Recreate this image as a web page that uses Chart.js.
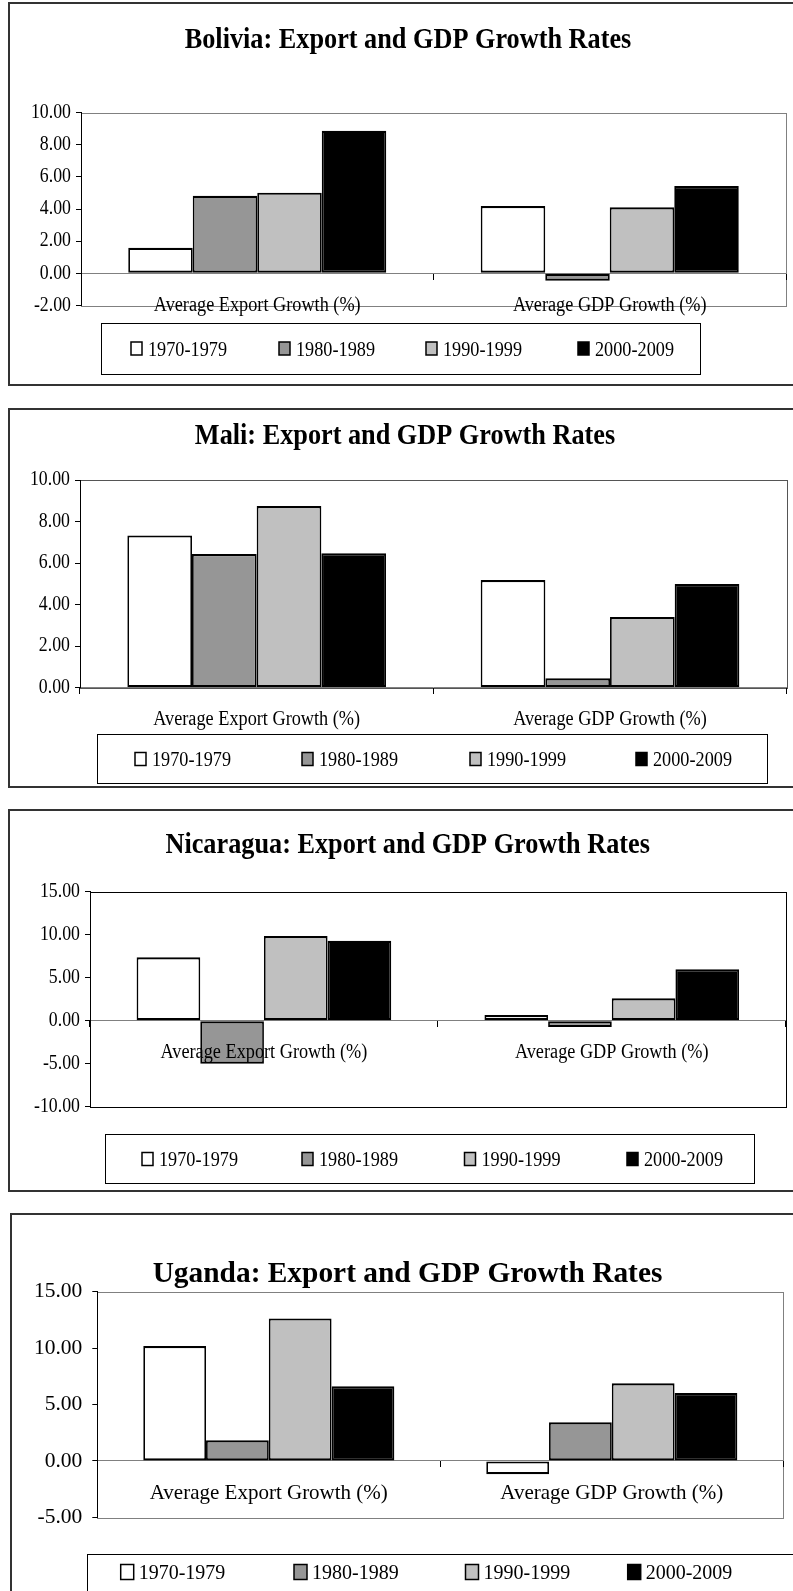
<!DOCTYPE html>
<html><head><meta charset="utf-8">
<script src="https://cdn.jsdelivr.net/npm/chart.js@4/dist/chart.umd.min.js"></script>
<style>
html,body{margin:0;padding:0;background:#fff;overflow:hidden;width:793px;height:1591px;position:relative;}
.box{position:absolute;box-sizing:border-box;border:2px solid #333;background:#fff;}
canvas{position:absolute;left:0;}
</style></head><body>
<div class="box" style="left:8px;top:2px;width:800px;height:384px"></div>
<div class="box" style="left:8px;top:408px;width:800px;height:380px"></div>
<div class="box" style="left:8px;top:809px;width:800px;height:383px"></div>
<div class="box" style="left:10px;top:1213px;width:800px;height:400px"></div>
<canvas id="c1" width="793" height="384" style="top:2px"></canvas>
<canvas id="c2" width="793" height="380" style="top:408px"></canvas>
<canvas id="c3" width="793" height="382" style="top:809px"></canvas>
<canvas id="c4" width="793" height="378" style="top:1213px"></canvas>
<script>
// ---- data ----
const categories = ['Average Export Growth (%)', 'Average GDP Growth (%)'];
const periods = ['1970-1979', '1980-1989', '1990-1999', '2000-2009'];
const periodColors = ['#FFFFFF', '#969696', '#C0C0C0', '#000000'];

const boliviaTitle = 'Bolivia: Export and GDP Growth Rates';
const boliviaExport = [1.59, 4.83, 5.02, 8.88];
const boliviaGDP = [4.19, -0.46, 4.11, 5.44];
const boliviaTicks = [-2, 0, 2, 4, 6, 8, 10];

const maliTitle = 'Mali: Export and GDP Growth Rates';
const maliExport = [7.34, 6.44, 8.76, 6.48];
const maliGDP = [5.19, 0.45, 3.41, 5.00];
const maliTicks = [0, 2, 4, 6, 8, 10];

const nicaraguaTitle = 'Nicaragua: Export and GDP Growth Rates';
const nicaraguaExport = [7.37, -5.00, 9.85, 9.30];
const nicaraguaGDP = [0.66, -0.73, 2.60, 5.97];
const nicaraguaTicks = [-10, -5, 0, 5, 10, 15];

const ugandaTitle = 'Uganda: Export and GDP Growth Rates';
const ugandaExport = [10.18, 1.83, 12.63, 6.61];
const ugandaGDP = [-1.18, 3.42, 6.88, 6.02];
const ugandaTicks = [-5, 0, 5, 10, 15];

// ---- layout / style ----
const FONT = 'Liberation Serif';
const layouts = [
  {id:'c1', title:boliviaTitle, exp:boliviaExport, gdp:boliviaGDP, ticks:boliviaTicks,
   pl:30, pr:7, yw:51, titleSize:29.5, titlePad:{top:20.5,bottom:54.8}, padB:80.6,
   sx:0.89, tickSize:20, labelSize:20.5, yPad:5, xPad:14, plotBorder:'#808080',
   legend:{box:[101,320.5,700,371], items:[131,279,426,578], y:348.5, size:20.5, sq:[11,13], gap:17}},
  {id:'c2', title:maliTitle, exp:maliExport, gdp:maliGDP, ticks:maliTicks,
   pl:23.3, pr:6.3, yw:56.7, titleSize:29.5, titlePad:{top:10.8,bottom:26}, padB:100.3,
   sx:0.89, tickSize:20, labelSize:20.5, yPad:5, xPad:14, plotBorder:'#555555',
   legend:{box:[97,326,767,375], items:[135,302,470,636], y:353, size:20.5, sq:[11,13], gap:17}},
  {id:'c3', title:nicaraguaTitle, exp:nicaraguaExport, gdp:nicaraguaGDP, ticks:nicaraguaTicks,
   pl:29.7, pr:7.3, yw:60.3, titleSize:29.5, titlePad:{top:18.8,bottom:28.5}, padB:84.3,
   sx:0.89, tickSize:20, labelSize:20.5, yPad:5, xPad:14, plotBorder:'#000000',
   legend:{box:[104.5,325,753.5,373.5], items:[142,302,464.5,627], y:352, size:20.5, sq:[11,13], gap:17}},
  {id:'c4', title:ugandaTitle, exp:ugandaExport, gdp:ugandaGDP, ticks:ugandaTicks,
   pl:31.7, pr:9.7, yw:65.6, titleSize:29.4, titlePad:{top:43.4,bottom:0}, padB:73.7,
   sx:1.0, tickSize:21.5, labelSize:21, yPad:10, xPad:14, plotBorder:'#808080',
   legend:{box:[87,340.6,820,400], items:[120.7,294,465.5,627.7], y:361, size:20, sq:[13,15], gap:18}}
];

function makeCondense(sx) {
  return {
    id: 'condense',
    beforeInit(chart) {
      const ctx = chart.ctx;
      const orig = ctx.fillText;
      ctx.fillText = function (text, x, y) {
        this.save();
        this.translate(x, y);
        this.scale(sx, 1);
        orig.call(this, text, 0, 0);
        this.restore();
      };
    }
  };
}

function makeDecor(L) {
  return {
    id: 'decor',
    beforeDraw(chart) {
      const {ctx, chartArea: a} = chart;
      ctx.save();
      ctx.strokeStyle = L.plotBorder;
      ctx.lineWidth = 1;
      ctx.strokeRect(Math.round(a.left) + 0.5, Math.round(a.top) + 0.5,
                     Math.round(a.right - a.left), Math.round(a.bottom - a.top));
      ctx.restore();
    },
    afterDraw(chart) {
      const ctx = chart.ctx;
      const lg = L.legend;
      ctx.save();
      ctx.strokeStyle = '#000';
      ctx.lineWidth = 1;
      ctx.strokeRect(Math.round(lg.box[0]) + 0.5, Math.round(lg.box[1]) + 0.5,
                     Math.round(lg.box[2] - lg.box[0]), Math.round(lg.box[3] - lg.box[1]));
      ctx.font = lg.size + 'px "' + FONT + '"';
      ctx.textBaseline = 'middle';
      ctx.textAlign = 'left';
      chart.data.datasets.forEach((ds, i) => {
        const x = lg.items[i];
        const y0 = lg.y - 2 - lg.sq[1] / 2;
        ctx.fillStyle = ds.backgroundColor;
        ctx.fillRect(x, y0, lg.sq[0], lg.sq[1]);
        ctx.lineWidth = 1.5;
        ctx.strokeStyle = '#000';
        ctx.strokeRect(x, y0, lg.sq[0], lg.sq[1]);
        ctx.fillStyle = '#000';
        ctx.fillText(ds.label, x + lg.gap, lg.y);
      });
      ctx.restore();
    }
  };
}

layouts.forEach(L => {
  const datasets = periods.map((p, i) => ({
    label: p,
    data: [L.exp[i], L.gdp[i]],
    backgroundColor: periodColors[i],
    borderColor: '#000000',
    borderWidth: {top: 2.2, bottom: 2.2, left: 1.75, right: 1.75},
    borderSkipped: false,
    barPercentage: 1.0,
    categoryPercentage: 0.732
  }));
  const tickVals = L.ticks;
  new Chart(document.getElementById(L.id), {
    type: 'bar',
    data: {labels: categories, datasets},
    options: {
      responsive: false,
      animation: false,
      devicePixelRatio: 1,
      events: [],
      layout: {padding: {left: L.pl, right: L.pr, top: 0, bottom: L.padB}},
      plugins: {
        legend: {display: false},
        tooltip: {enabled: false},
        title: {
          display: true,
          text: L.title,
          color: '#000',
          font: {family: FONT, size: L.titleSize, weight: 'bold', lineHeight: 1.2},
          padding: L.titlePad
        }
      },
      scales: {
        x: {
          position: {y: 0},
          offset: true,
          grid: {offset: true, drawOnChartArea: false, drawTicks: true, tickLength: 6, color: '#000'},
          border: {display: true, color: '#808080', width: 1},
          ticks: {z: 1, color: '#000', font: {family: FONT, size: L.labelSize}, padding: L.xPad,
                  autoSkip: false, maxRotation: 0, minRotation: 0}
        },
        y: {
          min: tickVals[0],
          max: tickVals[tickVals.length - 1],
          afterBuildTicks: s => { s.ticks = tickVals.map(v => ({value: v})); },
          afterFit: s => { s.width = L.yw; },
          grid: {drawOnChartArea: false, drawTicks: true, tickLength: 5, color: '#000'},
          border: {display: true, color: '#000', width: 1},
          ticks: {color: '#000', font: {family: FONT, size: L.tickSize}, padding: L.yPad,
                  callback: v => Number(v).toFixed(2)}
        }
      }
    },
    plugins: [makeCondense(L.sx), makeDecor(L)]
  });
});
</script>
</body></html>
